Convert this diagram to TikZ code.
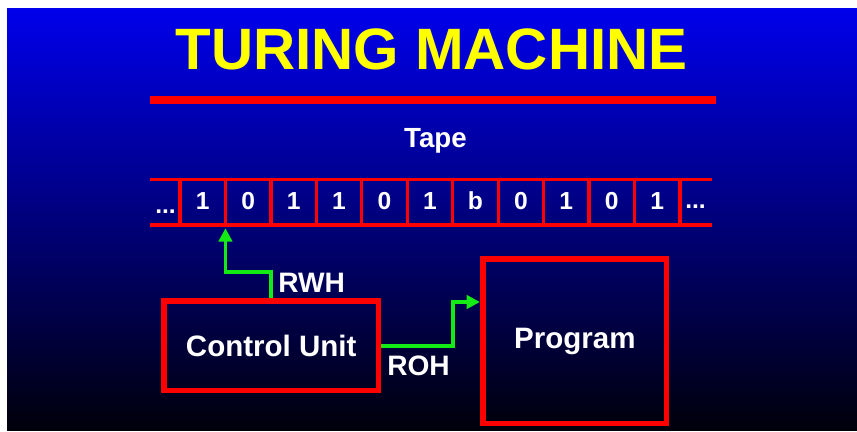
\documentclass[tikz,border=0pt]{standalone}
\usepackage{fontspec}
\setmainfont{Liberation Sans}
\usetikzlibrary{arrows.meta,positioning}

\definecolor{boxred}{RGB}{255,0,0}
\definecolor{headgreen}{RGB}{20,235,20}
\definecolor{titleyellow}{RGB}{255,255,0}
\definecolor{bgtop}{RGB}{0,0,235}
\definecolor{bgbot}{RGB}{0,0,10}

\begin{document}
\begin{tikzpicture}[x=0.025cm, y=-0.025cm, line join=miter,
  box/.style={draw=boxred, line width=3.8pt, inner sep=0pt, outer sep=0pt,
    text=white, font=\bfseries\fontsize{21}{21}\selectfont},
  cell/.style={minimum width=1.13625cm, minimum height=1.1375cm, inner sep=0pt,
    outer sep=0pt, text=white, text height=12.5pt, text depth=2.5pt,
    font=\bfseries\fontsize{17.5}{17.5}\selectfont},
  tapeline/.style={draw=boxred, line width=2.3pt},
  headarrow/.style={draw=headgreen, line width=2.6pt, shorten <=1.9pt,
    -{Triangle[length=9.5pt,width=9.5pt]}},
  lbl/.style={text=white, inner sep=0pt, font=\bfseries\fontsize{20}{20}\selectfont}]

%-----------------------
% 背景：上蓝下黑
%-----------------------
\useasboundingbox (0,0) rectangle (857,432);
\fill[white] (0,0) rectangle (857,432);
\shade[top color=bgtop, bottom color=bgbot] (7,9) rectangle (857,431);

%-----------------------
% 标题与红色横线
%-----------------------
\node[anchor=base, inner sep=0pt, text=titleyellow,
  font=\bfseries\fontsize{41.5}{41.5}\selectfont] (title) at (431.5,70) {TURING MACHINE};
\fill[boxred] (150,96) rectangle (716,104);

%-----------------------
% 纸带：11 个格子
%-----------------------
\def\cellw{45.45}
\node[lbl, font=\bfseries\fontsize{19.7}{19.7}\selectfont, anchor=base] (tape) at (435.5,148) {Tape};

\foreach \v [count=\i] in {1,0,1,1,0,1,b,0,1,0,1}
  \node[cell] (c\i) at ({180+\cellw*(\i-0.5)},202.25) {\v};

\node[lbl, font=\bfseries\fontsize{17.5}{17.5}\selectfont, anchor=base west] (ldots) at (155,214) {...};
\node[lbl, font=\bfseries\fontsize{17.5}{17.5}\selectfont, anchor=base west] (rdots) at (685,208.5) {...};

\draw[tapeline] (c1.north west) ++(-30,0) -- ++(562,0);
\draw[tapeline] (c1.south west) ++(-30,0) -- ++(562,0);
\foreach \i in {1,...,11}
  \draw[tapeline] (c\i.north west) -- (c\i.south west);
\draw[tapeline] (c11.north east) -- (c11.south east);

%-----------------------
% 控制器与程序
%-----------------------
\node[box, minimum width=5.3625cm, minimum height=2.2375cm] (cu) at (271.25,345.75) {Control Unit};
\node[box, minimum width=4.5925cm, minimum height=4.1075cm] (prog) at (574.85,341.15) {Program};
\coordinate (rohtip) at (480,302);

% 读写头 RWH，只读头 ROH
\draw[headarrow, shorten >=2.3pt] (cu.north) -- ++(0,-29) -| (c1.south east);
\draw[headarrow] (cu.east) -- ++(74.5,0) |- (rohtip);

\node[lbl, anchor=base west] (rwh) at (278,292.5) {RWH};
\node[lbl, anchor=base west] (roh) at (387,376) {ROH};

\end{tikzpicture}
\end{document}
